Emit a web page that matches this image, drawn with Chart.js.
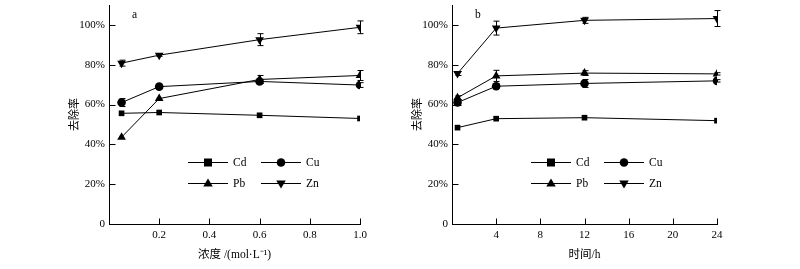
<!DOCTYPE html>
<html>
<head>
<meta charset="utf-8">
<script src="https://cdn.jsdelivr.net/npm/chart.js@4.4.1/dist/chart.umd.min.js"></script>
<style>
  html, body { margin: 0; padding: 0; background: #fff; }
  .wrap { display: flex; width: 800px; height: 269px; }
  .box { position: relative; width: 400px; height: 269px; }
</style>
</head>
<body>
<div class="wrap">
  <div class="box"><canvas id="chartA"></canvas></div>
  <div class="box"><canvas id="chartB"></canvas></div>
</div>
<script>
// ---- data ----
const metals = ['Cd', 'Cu', 'Pb', 'Zn'];
const yTicks = [0, 20, 40, 60, 80, 100];

// a: concentration
const concX = [0.05, 0.2, 0.6, 1.0];
const concTicks = [0.2, 0.4, 0.6, 0.8, 1.0];
const concCd = [55.6, 56.0, 54.6, 53.0];
const concCu = [61.0, 69.0, 71.6, 69.8];
const concPb = [43.6, 63.0, 72.6, 74.6];
const concZn = [80.8, 84.8, 92.6, 98.8];
const concCdErr = [0, 0, 0, 0];
const concCuErr = [2.0, 0.6, 1.0, 1.2];
const concPbErr = [0, 0, 2.0, 2.5];
const concZnErr = [1.5, 0.6, 3.0, 3.2];

// b: time
const timeX = [0.5, 4, 12, 24];
const timeTicks = [4, 8, 12, 16, 20, 24];
const timeCd = [48.4, 52.9, 53.4, 51.9];
const timeCu = [61.0, 69.2, 70.6, 71.9];
const timePb = [63.4, 74.4, 75.8, 75.4];
const timeZn = [75.6, 98.4, 102.3, 103.2];
const timeCdErr = [0, 0, 0, 0];
const timeCuErr = [1.5, 1.2, 2.0, 0.6];
const timePbErr = [1.0, 2.8, 1.2, 0.6];
const timeZnErr = [1.0, 3.5, 1.5, 4.0];

const FONT = "'Liberation Serif', 'Times New Roman', 'Noto Sans CJK SC', serif";
const styles = [
  { pointStyle: 'rect', rotation: 0, radius: 4 },
  { pointStyle: 'circle', rotation: 0, radius: 4.3 },
  { pointStyle: 'triangle', rotation: 0, radius: 5 },
  { pointStyle: 'triangle', rotation: 180, radius: 5 }
];

function makeSets(xs, series, errs) {
  return series.map((vals, i) => ({
    label: metals[i],
    data: vals.map((v, j) => ({ x: xs[j], y: v })),
    errors: errs[i],
    borderColor: '#000',
    backgroundColor: '#000',
    borderWidth: 1,
    pointStyle: styles[i].pointStyle,
    rotation: styles[i].rotation,
    pointRadius: styles[i].radius,
    pointBorderWidth: 0,
    tension: 0
  }));
}

function drawMarker(ctx, st, x, y) {
  const r = st.radius;
  ctx.beginPath();
  if (st.pointStyle === 'rect') {
    ctx.rect(x - r, y - r, 2 * r, 2 * r);
  } else if (st.pointStyle === 'circle') {
    ctx.arc(x, y, r, 0, Math.PI * 2);
  } else {
    const s = st.rotation ? -1 : 1;
    ctx.moveTo(x, y - s * r);
    ctx.lineTo(x + r * 0.95, y + s * r * 0.6);
    ctx.lineTo(x - r * 0.95, y + s * r * 0.6);
    ctx.closePath();
  }
  ctx.fill();
}

const extras = {
  id: 'extras',
  afterDatasetsDraw(chart, args, opts) {
    const { ctx, chartArea } = chart;
    const xs = chart.scales.x, ys = chart.scales.y;
    ctx.save();
    ctx.strokeStyle = '#000';
    ctx.fillStyle = '#000';
    ctx.lineWidth = 1;
    // error bars
    chart.data.datasets.forEach(ds => {
      ds.data.forEach((p, j) => {
        const e = ds.errors[j];
        if (!e) return;
        const px = Math.round(xs.getPixelForValue(p.x)) + 0.5;
        const y1 = ys.getPixelForValue(p.y + e);
        const y2 = ys.getPixelForValue(p.y - e);
        ctx.beginPath();
        ctx.moveTo(px, y1); ctx.lineTo(px, y2);
        ctx.moveTo(px - 3, y1); ctx.lineTo(px + 3, y1);
        ctx.moveTo(px - 3, y2); ctx.lineTo(px + 3, y2);
        ctx.stroke();
      });
    });
    // inward ticks
    const b = Math.round(chartArea.bottom) + 0.5;
    const l = Math.round(chartArea.left) + 0.5;
    ctx.beginPath();
    xs.ticks.forEach(t => {
      const px = Math.round(xs.getPixelForValue(t.value)) + 0.5;
      ctx.moveTo(px, b); ctx.lineTo(px, b - 6);
    });
    ys.ticks.forEach(t => {
      const py = Math.round(ys.getPixelForValue(t.value)) + 0.5;
      ctx.moveTo(l, py); ctx.lineTo(l + 6, py);
    });
    ctx.stroke();
    // legend
    ctx.font = '11.5px ' + FONT;
    ctx.textBaseline = 'middle';
    const lx = chartArea.left + opts.legendX;
    const cols = [0, 73];
    const rows = [opts.legendY, opts.legendY + 21];
    chart.data.datasets.forEach((ds, i) => {
      const x0 = lx + cols[i % 2];
      const y0 = Math.round(rows[Math.floor(i / 2)]) + 0.5;
      ctx.beginPath();
      ctx.moveTo(x0, y0); ctx.lineTo(x0 + 40, y0);
      ctx.stroke();
      drawMarker(ctx, styles[i], x0 + 20, y0);
      ctx.fillText(ds.label, x0 + 45, y0);
    });
    // panel label
    ctx.fillText(opts.panel, chartArea.left + opts.panelX, 15);
    ctx.restore();
  }
};

function makeChart(id, sets, tickVals, xMax, xTitle, cfg) {
  return new Chart(document.getElementById(id), {
    type: 'line',
    data: { datasets: sets },
    plugins: [extras],
    options: {
      responsive: false,
      animation: false,
      layout: { padding: { left: cfg.padLeft, right: cfg.padRight, top: 5, bottom: 0 } },
      plugins: {
        legend: { display: false },
        tooltip: { enabled: false },
        extras: { legendX: 79, legendY: 162, panel: cfg.panel, panelX: 23 }
      },
      scales: {
        x: {
          type: 'linear',
          min: 0,
          max: xMax,
          afterBuildTicks: s => { s.ticks = tickVals.map(v => ({ value: v })); },
          afterFit: s => { s.height = 45; s.paddingLeft = 0; s.paddingRight = 0; },
          grid: { display: false, drawTicks: false },
          border: { display: true, color: '#000', width: 1 },
          ticks: {
            color: '#000', padding: 5, font: { family: FONT, size: 11 },
            callback: v => (xMax === 1 ? v.toFixed(1) : String(v))
          },
          title: {
            display: true, text: xTitle, color: '#000',
            font: { family: FONT, size: 11.5 }, padding: { top: 2, bottom: 7 }
          }
        },
        y: {
          min: 0,
          max: 110,
          afterBuildTicks: s => { s.ticks = yTicks.map(v => ({ value: v })); },
          afterFit: s => { s.width = cfg.yWidth; s.paddingTop = 0; s.paddingBottom = 0; },
          grid: { display: false, drawTicks: false },
          border: { display: true, color: '#000', width: 1 },
          ticks: {
            color: '#000', padding: 4, font: { family: FONT, size: 11 },
            callback: v => (v === 0 ? '0' : v + '%')
          },
          title: {
            display: true, text: '去除率', color: '#000',
            font: { family: FONT, size: 11 }, padding: 2
          }
        }
      }
    }
  });
}

document.getElementById('chartA').width = 400;
document.getElementById('chartA').height = 269;
document.getElementById('chartB').width = 400;
document.getElementById('chartB').height = 269;

makeChart('chartA',
  makeSets(concX, [concCd, concCu, concPb, concZn], [concCdErr, concCuErr, concPbErr, concZnErr]),
  concTicks, 1.0, '浓度 /(mol·L⁻¹)',
  { padLeft: 67, padRight: 40, yWidth: 42, panel: 'a' });

makeChart('chartB',
  makeSets(timeX, [timeCd, timeCu, timePb, timeZn], [timeCdErr, timeCuErr, timePbErr, timeZnErr]),
  timeTicks, 24, '时间/h',
  { padLeft: 10, padRight: 83, yWidth: 42, panel: 'b' });
</script>
</body>
</html>
